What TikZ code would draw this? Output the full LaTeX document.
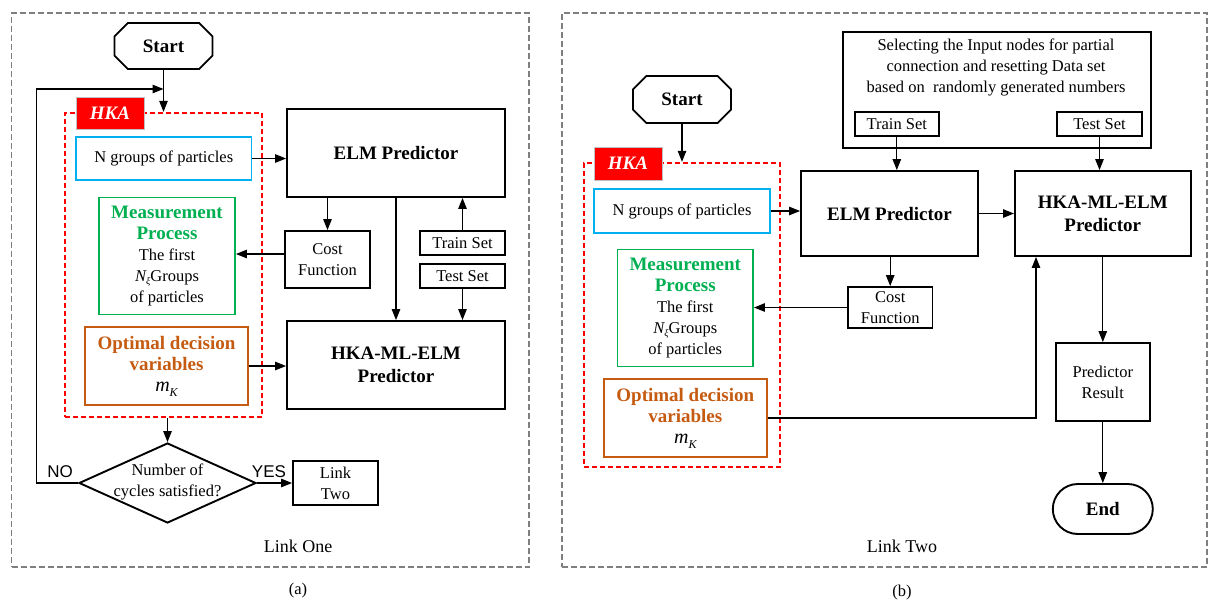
\documentclass[tikz,border=0pt]{standalone}
\usepackage{fontspec}
\setmainfont{Liberation Serif}
\newfontfamily\sansf{Liberation Sans}
\usetikzlibrary{shapes.misc,shapes.geometric,arrows.meta,calc}
\definecolor{cyanb}{HTML}{00B0F0}
\definecolor{greenb}{HTML}{00B050}
\definecolor{orangeb}{HTML}{C55A11}
\definecolor{grayb}{HTML}{7F7F7F}
\definecolor{redb}{HTML}{FF0000}
\newcommand{\Nxi}{{\itshape N}\raisebox{-3pt}{\fontsize{10}{10}\selectfont\itshape ξ}}
\newcommand{\mK}{{\fontsize{20}{21}\selectfont\itshape m}\raisebox{-5pt}{\fontsize{12}{12}\selectfont\itshape K}}
\newcommand{\hd}[2]{{\fontsize{19}{23}\selectfont\bfseries\color{#1}#2}}
\tikzset{
 box/.style={draw, line width=1.9pt, rectangle, inner sep=0pt, align=center, font=\fontsize{16.5}{21}\selectfont},
 bbox/.style={box, font=\fontsize{19}{23}\selectfont\bfseries},
 arr/.style={-{Triangle[length=11pt,width=8.5pt]}, line width=1.1pt},
 outerbox/.style={draw=grayb, dash pattern=on 6pt off 3pt, line width=1.6pt, rectangle, inner sep=0pt},
 hka/.style={draw=redb, dash pattern=on 5pt off 3pt, line width=2.3pt, rectangle, inner sep=0pt},
 hkalab/.style={fill=redb, draw=black!25, line width=0.6pt, text=white, font=\fontsize{19}{23}\selectfont\bfseries\itshape, inner sep=0pt},
 lbl/.style={inner sep=0pt, align=center, font=\fontsize{16.5}{21}\selectfont},
 captxt/.style={inner sep=0pt, font=\fontsize{18}{21}\selectfont},
 sanslbl/.style={inner sep=0pt, font=\fontsize{17}{20}\sansf},
 startbox/.style={box, chamfered rectangle, chamfered rectangle xsep=7pt, chamfered rectangle ysep=7pt, font=\fontsize{19}{23}\selectfont\bfseries},
}
\begin{document}
\begin{tikzpicture}[x=1pt,y=-1pt]
\useasboundingbox (0,0) rectangle (1209,603);
% ---------------- Panel (a) ----------------
\node[outerbox, minimum width=517.5pt, minimum height=554pt] (outA) at (270.25,290) {};
\node[startbox, minimum width=98pt, minimum height=46pt] (startA) at (163.5,46) {Start};
\node[hka, minimum width=197pt, minimum height=304pt] (hkaA) at (163.5,265) {};
\node[hkalab, minimum width=68pt, minimum height=32pt] (hlA) at (110,113) {HKA};
\node[box, draw=cyanb, minimum width=175.5pt, minimum height=43pt] (ngA) at (163.75,158.5) {N groups of particles};
\node[bbox, minimum width=218pt, minimum height=88pt] (elmA) at (396,153) {ELM Predictor};
\node[box, draw=greenb, minimum width=136pt, minimum height=117pt] (measA) at (167,256) {\hd{greenb}{Measurement}\\\hd{greenb}{Process}\\The first\\\Nxi Groups\\of particles};
\node[box, minimum width=85pt, minimum height=57pt] (costA) at (327.5,259.5) {Cost\\Function};
\node[box, minimum width=85pt, minimum height=24pt] (trainA) at (462.5,243) {Train Set};
\node[box, minimum width=85pt, minimum height=24pt] (testA) at (462.5,276) {Test Set};
\node[bbox, minimum width=218pt, minimum height=88pt] (hkamlA) at (396,365) {HKA-ML-ELM\\Predictor};
\node[box, draw=orangeb, minimum width=163pt, minimum height=78pt] (optA) at (166.5,366) {\hd{orangeb}{Optimal decision}\\\hd{orangeb}{variables}\\\mK};
\node[diamond, draw, line width=1.9pt, minimum width=177pt, minimum height=80pt, inner sep=0pt] (decA) at (167.5,483) {};
\node[lbl] (decAt) at (167.5,482) {Number of\\cycles satisfied?};
\node[box, minimum width=85pt, minimum height=44pt] (link2A) at (335.5,483) {Link\\Two};
\node[sanslbl] (noA) at (60,472) {NO};
\node[sanslbl] (yesA) at (269,472) {YES};
\node[captxt] (linkOne) at (298,546) {Link One};
\node[lbl] (capA) at (298,591) {(a)};
\coordinate (loopA) at (163.5,89);
\coordinate (cornA) at (36.5,89);
% connectors (a)
\draw[arr] (startA.south) -- (hkaA.north);
\draw[arr] (decA.west) -| (cornA) -- (loopA);
\draw[arr] (ngA.east) -- (ngA.east -| elmA.west);
\draw[arr] (costA.north |- elmA.south) -- (costA.north);
\draw[arr] (costA.west |- 0,254) -- (measA.east |- 0,254);
\draw[arr] (trainA.north) -- (trainA.north |- elmA.south);
\draw[arr] (elmA.south) -- (hkamlA.north);
\draw[arr] (testA.south) -- (testA.south |- hkamlA.north);
\draw[arr] (optA.east) -- (optA.east -| hkamlA.west);
\draw[arr] (decA.north |- hkaA.south) -- (decA.north);
\draw[arr] (decA.east) -- (link2A.west);
% ---------------- Panel (b) ----------------
\node[outerbox, minimum width=645pt, minimum height=554pt] (outB) at (884.5,290) {};
\node[startbox, minimum width=98pt, minimum height=47pt] (startB) at (682,99.5) {Start};
\node[hka, minimum width=196pt, minimum height=304pt] (hkaB) at (682,315) {};
\node[hkalab, minimum width=68pt, minimum height=33pt] (hlB) at (628,163.5) {HKA};
\node[box, draw=cyanb, minimum width=176pt, minimum height=44pt] (ngB) at (682,211) {N groups of particles};
\node[bbox, minimum width=177pt, minimum height=85pt] (elmB) at (889.5,213.5) {ELM Predictor};
\node[box, minimum width=308pt, minimum height=116pt] (selB) at (996.7,89.9) {};
\node[lbl] (selBt) at (996,67) {Selecting the Input nodes for partial\\connection and resetting Data set\\based on~ randomly generated numbers};
\node[box, minimum width=84.5pt, minimum height=24pt] (trainB) at (896.8,124) {Train Set};
\node[box, minimum width=85pt, minimum height=24pt] (testB) at (1099.5,124) {Test Set};
\node[bbox, minimum width=175.7pt, minimum height=85pt] (hkamlB) at (1102.8,213.5) {HKA-ML-ELM\\Predictor};
\node[box, minimum width=84.5pt, minimum height=41pt] (costB) at (890.2,307.5) {Cost\\Function};
\node[box, draw=greenb, minimum width=135.5pt, minimum height=117pt] (measB) at (685.25,308) {\hd{greenb}{Measurement}\\\hd{greenb}{Process}\\The first\\\Nxi Groups\\of particles};
\node[box, draw=orangeb, minimum width=162.7pt, minimum height=78pt] (optB) at (685.3,418) {\hd{orangeb}{Optimal decision}\\\hd{orangeb}{variables}\\\mK};
\node[box, minimum width=93.6pt, minimum height=78pt] (predB) at (1102.8,382) {Predictor\\Result};
\node[box, rounded rectangle, minimum width=100pt, minimum height=50pt, font=\fontsize{19}{23}\selectfont\bfseries] (endB) at (1102.8,509) {End};
\node[captxt] (linkTwo) at (902,546) {Link Two};
\node[lbl] (capB) at (902,593) {(b)};
% connectors (b)
\draw[arr] (startB.south) -- (hkaB.north);
\draw[arr] (ngB.east) -- (ngB.east -| elmB.west);
\draw[arr] (trainB.south) -- (trainB.south |- elmB.north);
\draw[arr] (testB.south) -- (testB.south |- hkamlB.north);
\draw[arr] (elmB.east) -- (elmB.east -| hkamlB.west);
\draw[arr] (costB.north |- elmB.south) -- (costB.north);
\draw[arr] (costB.west) -- (costB.west -| measB.east);
\draw[arr] (optB.east) -| ([xshift=-66.8pt]hkamlB.south);
\draw[arr] (hkamlB.south) -- (predB.north);
\draw[arr] (predB.south) -- (endB.north);
\end{tikzpicture}
\end{document}
